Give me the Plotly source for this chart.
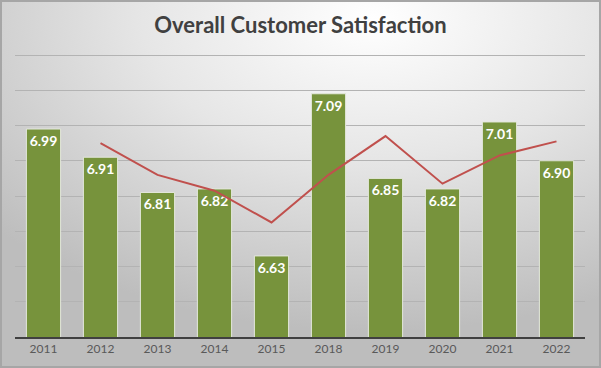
import plotly.graph_objects as go
import base64

years = ["2011", "2012", "2013", "2014", "2015", "2018", "2019", "2020", "2021", "2022"]
satisfaction = [6.99, 6.91, 6.81, 6.82, 6.63, 7.09, 6.85, 6.82, 7.01, 6.90]
trend = [None, 6.95, 6.86, 6.815, 6.725, 6.86, 6.97, 6.835, 6.915, 6.955]
labels = ["6.99", "6.91", "6.81", "6.82", "6.63", "7.09", "6.85", "6.82", "7.01", "6.90"]

W, H = 601, 368
ml, mr, mt, mb = 15, 16, 52, 31
pw, ph = W - ml - mr, H - mt - mb
y_top = 7.2 + 3 / 352.5

svg = f'''<svg xmlns="http://www.w3.org/2000/svg" width="{W}" height="{H}" viewBox="0 0 {W} {H}" preserveAspectRatio="none">
<defs><radialGradient id="g" cx="62%" cy="5%" r="85%" gradientUnits="objectBoundingBox">
<stop offset="0" stop-color="#ffffff"/><stop offset="0.45" stop-color="#e6e6e6"/><stop offset="1" stop-color="#bdbdbd"/>
</radialGradient></defs>
<rect x="0" y="0" width="{W}" height="{H}" fill="url(#g)"/>
<rect x="1" y="1" width="{W-2}" height="{H-2}" fill="none" stroke="#a6a6a6" stroke-width="2"/>
</svg>'''
src = "data:image/svg+xml;base64," + base64.b64encode(svg.encode()).decode()

fig = go.Figure()
fig.add_trace(go.Bar(
    x=years, y=satisfaction, text=labels, textposition="inside", insidetextanchor="end",
    textfont=dict(family="Lato", size=14, color="white", weight="bold"),
    marker=dict(color="#77933c", line=dict(color="#e4e8dc", width=1)),
    width=0.6, cliponaxis=False, showlegend=False, hoverinfo="skip",
))
fig.add_trace(go.Scatter(
    x=years, y=trend, mode="lines", line=dict(color="#c0504d", width=2),
    showlegend=False, hoverinfo="skip", connectgaps=False,
))

fig.add_layout_image(dict(
    source=src, xref="paper", yref="paper",
    x=-ml / pw, y=1 + mt / ph, sizex=W / pw, sizey=H / ph,
    xanchor="left", yanchor="top", sizing="stretch", layer="below",
))

fig.update_layout(
    width=W, height=H,
    margin=dict(l=ml, r=mr, t=mt, b=mb, pad=0),
    paper_bgcolor="rgba(0,0,0,0)", plot_bgcolor="rgba(0,0,0,0)",
    title=dict(text="<b>Overall Customer Satisfaction</b>", x=0.5, xanchor="center",
               y=1 - 25 / H, yanchor="middle",
               font=dict(family="Lato", size=22, color="#404040")),
    bargap=0.4,
    xaxis=dict(showline=True, linecolor="#404040", linewidth=2, ticks="",
               tickfont=dict(family="Lato", size=12, color="#595959"),
               showgrid=False, fixedrange=True),
    yaxis=dict(range=[6.4, y_top], tick0=6.4, dtick=0.1, showticklabels=False, showgrid=True,
               gridcolor="#b3b3b3", gridwidth=1, zeroline=False, fixedrange=True),
)

fig.write_html("out.html", config={"displayModeBar": False, "staticPlot": True})

with open("out.html", "r", encoding="utf-8") as f:
    html = f.read()
html = html.replace("<body>", '<body style="margin:0;padding:0;overflow:hidden">', 1)
with open("out.html", "w", encoding="utf-8") as f:
    f.write(html)
